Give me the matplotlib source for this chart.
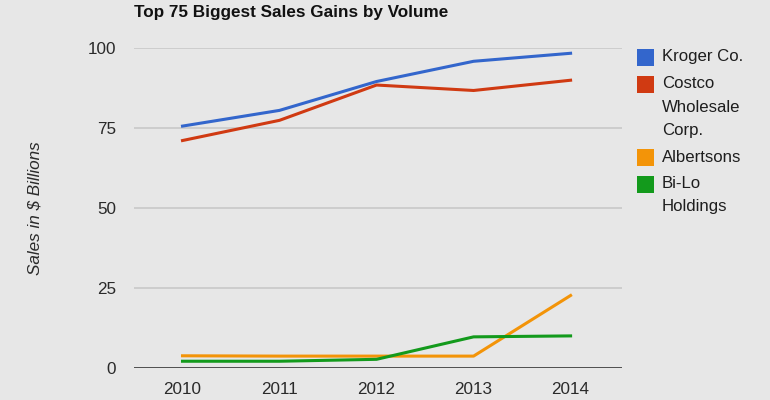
import matplotlib
matplotlib.use('Agg')
import matplotlib.pyplot as plt
from matplotlib.patches import Rectangle

plt.rcParams['font.family'] = ['Liberation Sans', 'DejaVu Sans']

years = [2010, 2011, 2012, 2013, 2014]
kroger = [75.5, 80.4, 89.4, 95.7, 98.2]
costco = [71.0, 77.3, 88.3, 86.6, 89.8]
albertsons = [3.9, 3.8, 3.8, 3.8, 22.7]
bilo = [2.2, 2.2, 2.8, 9.8, 10.1]
series_names = ['Kroger Co.', 'Costco\nWholesale\nCorp.', 'Albertsons', 'Bi-Lo\nHoldings']
colors = ['#3366cc', '#d03a12', '#f39408', '#139a1c']
yticks = [0, 25, 50, 75, 100]

bg = '#e7e7e7'
W, H = 770, 400
fig = plt.figure(figsize=(W/100, H/100), dpi=100, facecolor=bg)
ax = fig.add_axes([134/W, 1-368.3/H, (622-134)/W, (368.3-47.5)/H], facecolor=bg)

for vals, c in zip([kroger, costco, albertsons, bilo], colors):
    ax.plot(years, vals, color=c, lw=2.2, solid_joinstyle='round')

ax.set_xlim(2009.5, 2014.53)
ax.set_ylim(0, 100)
ax.set_yticks(yticks)
ax.set_xticks(years)
ax.set_xticklabels([str(y) for y in years])
for y in yticks[1:]:
    ax.axhline(y, color='#c8c8c8', lw=1.2, zorder=0)
ax.axhline(0, color='#444444', lw=1.3, zorder=3)
for s in ax.spines.values():
    s.set_visible(False)
ax.tick_params(length=0, labelsize=12.3, colors='#2a2a2a')
ax.tick_params(axis='y', pad=13)
ax.tick_params(axis='x', pad=10)

fig.text(134/W, 1-13/H, 'Top 75 Biggest Sales Gains by Volume', fontsize=12.3,
         fontweight='bold', color='#111111', va='center', ha='left')
fig.text(35/W, 1-208/H, 'Sales in $ Billions', rotation=90, style='italic',
         fontsize=12.3, color='#2a2a2a', va='center', ha='center')

# legend drawn by hand
line_y = 57
for name, c in zip(series_names, colors):
    fig.add_artist(Rectangle((637/W, 1-(line_y+9)/H), 17/W, 17/H,
                             transform=fig.transFigure, facecolor=c,
                             edgecolor='none'))
    for part in name.split('\n'):
        fig.text(662/W, 1-line_y/H, part, fontsize=12.1, color='#1e1e1e',
                 va='center', ha='left')
        line_y += 23
    line_y += 4

fig.savefig('out.png', dpi=100, facecolor=bg)
